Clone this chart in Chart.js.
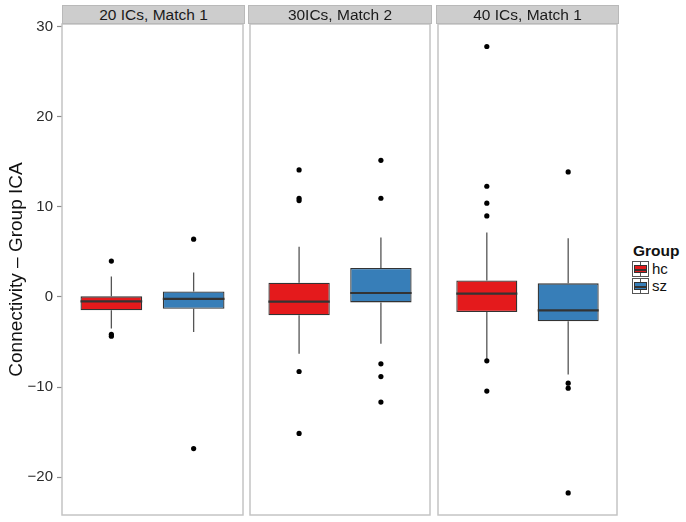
<!DOCTYPE html>
<html>
<head>
<meta charset="utf-8">
<script src="https://cdn.jsdelivr.net/npm/chart.js@4.4.1/dist/chart.umd.min.js"></script>
<style>
body { margin: 0; background: #fff; font-family: "Liberation Sans", Arial, sans-serif; }
#wrap { position: relative; width: 686px; height: 522px; overflow: hidden; }
canvas { position: absolute; top: 0; }
.strip { position: absolute; top: 5px; height: 19px; box-sizing: border-box; background: #cdcdcd;
  border: 1px solid #b9b9b9; font-size: 15.5px; line-height: 17px; text-align: center; color: #1a1a1a; }
#legend { position: absolute; left: 632px; top: 242px; color: #111; }
#legend .ltitle { font-weight: bold; font-size: 15.5px; line-height: 18px; margin-left: 1px; }
#legend .row { display: flex; align-items: center; height: 17px; }
#legend .key { position: relative; width: 17px; height: 16px; border: 1px solid #555; box-sizing: border-box; background: #fff; }
#legend .key::before { content: ""; position: absolute; left: 7px; top: 0; bottom: 0; width: 1px; background: #555; }
#legend .kbox { position: absolute; left: 1px; right: 1px; top: 3px; bottom: 3px; border: 1px solid #333; }
#legend .kbox::after { content: ""; position: absolute; left: 0; right: 0; top: 3px; height: 2px; background: #333; }
#legend .lab { font-size: 15px; margin-left: 3px; line-height: 17px; }
</style>
</head>
<body>
<div id="wrap">
  <canvas id="p0" width="247" height="522" style="left:0px"></canvas>
  <canvas id="p1" width="188" height="522" style="left:246px"></canvas>
  <canvas id="p2" width="187" height="522" style="left:434px"></canvas>
  <div id="legend"></div>
</div>
<script>
// facettes et groupes
const panels = ['20 ICs, Match 1', '30ICs, Match 2', '40 ICs, Match 1'];
const groups = ['hc', 'sz'];
const colors = ['#E41A1C', '#377EB8'];

// statistiques des boîtes, [panneau][groupe]
const whiskerLow  = [[-3.50, -3.88], [-6.31, -5.20], [-6.90, -8.60]];
const q1          = [[-1.48, -1.30], [-2.04, -0.60], [-1.66, -2.70]];
const median      = [[-0.49, -0.22], [-0.52,  0.44], [ 0.37, -1.48]];
const q3          = [[ 0.07,  0.62], [ 1.58,  3.21], [ 1.84,  1.51]];
const whiskerHigh = [[ 2.28,  2.72], [ 5.57,  6.60], [ 7.15,  6.53]];
const outliers = [
  [[3.99, -4.15, -4.35], [6.42, -16.83]],
  [[14.10, 10.96, 10.70, -8.27, -15.14], [15.17, 10.96, -7.42, -8.83, -11.67]],
  [[27.80, 12.29, 10.41, 9.00, -7.09, -10.45], [13.88, -9.57, -10.12, -21.75]]
];

// axe y
const yMin = -24.2;
const yMax = 30.3;
const yStep = 10;
const yTitle = 'Connectivity – Group ICA';

Chart.defaults.font.family = '"Liberation Sans", Arial, sans-serif';

const panelBorder = {
  id: 'panelBorder',
  afterDraw(chart) {
    const a = chart.chartArea, c = chart.ctx;
    c.save();
    c.strokeStyle = '#c4c4c4';
    c.lineWidth = 1.5;
    c.strokeRect(a.left, a.top, a.right - a.left, a.bottom - a.top);
    c.restore();
  }
};

function makePanel(p, id, showAxis, pad) {
  const half = 0.375;
  const whisk = [], med = [], outs = [];
  groups.forEach((g, i) => {
    const x = i + 1;
    whisk.push({x: x, y: q3[p][i]}, {x: x, y: whiskerHigh[p][i]}, {x: x, y: null});
    whisk.push({x: x, y: q1[p][i]}, {x: x, y: whiskerLow[p][i]}, {x: x, y: null});
    med.push({x: x - half, y: median[p][i]}, {x: x + half, y: median[p][i]}, {x: x, y: null});
    outliers[p][i].forEach(v => outs.push({x: x, y: v}));
  });

  new Chart(document.getElementById(id).getContext('2d'), {
    type: 'bar',
    data: {
      datasets: [
        {
          type: 'line', data: whisk, order: 3,
          borderColor: '#555', borderWidth: 1.3, pointRadius: 0, spanGaps: false
        },
        {
          type: 'bar', order: 2,
          data: groups.map((g, i) => ({x: i + 1, y: [q1[p][i], q3[p][i]]})),
          backgroundColor: colors, borderColor: '#333', borderWidth: 1.3, borderSkipped: false,
          barPercentage: 0.75, categoryPercentage: 1
        },
        {
          type: 'line', data: med, order: 1,
          borderColor: '#333', borderWidth: 2.2, pointRadius: 0, spanGaps: false
        },
        {
          type: 'scatter', data: outs, order: 0,
          backgroundColor: '#000', borderWidth: 0, pointRadius: 2.6
        }
      ]
    },
    options: {
      responsive: false,
      animation: false,
      events: [],
      layout: { padding: pad },
      plugins: { legend: { display: false }, tooltip: { enabled: false } },
      scales: {
        x: {
          type: 'linear', min: 0.4, max: 2.6, display: false, offset: false,
          grid: { offset: false },
          ticks: { stepSize: 1, includeBounds: false }
        },
        y: {
          min: yMin, max: yMax, display: showAxis,
          afterFit: s => {
            if (!showAxis) return;
            s.width = 62; s.paddingTop = 0; s.paddingBottom = 0;
          },
          ticks: {
            stepSize: yStep, includeBounds: false, font: { size: 15 }, color: '#2b2b2b', padding: 4,
            callback: v => String(v).replace('-', '\u2212')
          },
          grid: { drawOnChartArea: false, tickLength: 5, tickColor: '#8c8c8c', tickWidth: 1.2 },
          border: { display: false },
          title: { display: true, text: yTitle, font: { size: 19 }, color: '#111', padding: { top: 5, bottom: 0 } }
        }
      }
    },
    plugins: [panelBorder]
  });
}

makePanel(0, 'p0', true,  { top: 24, bottom: 7, left: 0, right: 2 });
makePanel(1, 'p1', false, { top: 24, bottom: 7, left: 2, right: 2 });
makePanel(2, 'p2', false, { top: 24, bottom: 7, left: 2, right: 2 });

// bandeaux des facettes
const stripPos = [[62, 183], [248, 184], [436, 183]];
const wrap = document.getElementById('wrap');
panels.forEach((t, i) => {
  const d = document.createElement('div');
  d.className = 'strip';
  d.style.left = stripPos[i][0] + 'px';
  d.style.width = stripPos[i][1] + 'px';
  d.textContent = t;
  wrap.appendChild(d);
});

// légende
const legend = document.getElementById('legend');
legend.innerHTML = '<div class="ltitle">Group</div>';
groups.forEach((g, i) => {
  const row = document.createElement('div');
  row.className = 'row';
  row.innerHTML = '<div class="key"><div class="kbox" style="background:' + colors[i] + '"></div></div><span class="lab">' + g + '</span>';
  legend.appendChild(row);
});
</script>
</body>
</html>
